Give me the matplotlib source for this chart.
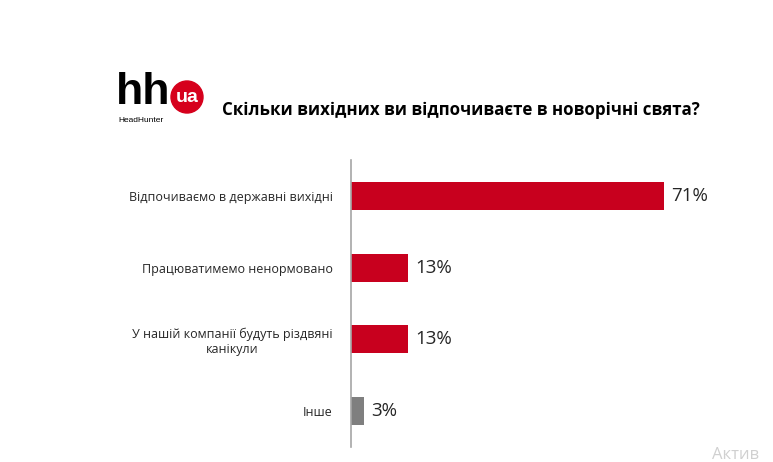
import matplotlib
matplotlib.use("Agg")
import matplotlib.pyplot as plt
from matplotlib.patches import Circle

categories = ["Відпочиваємо в державні вихідні", "Працюватимемо ненормовано",
              "У нашій компанії будуть різдвяні\nканікули", "Інше"]
values = [71, 13, 13, 3]
colors = ["#C8001E", "#C8001E", "#C8001E", "#7F7F7F"]
labels = ["71%", "13%", "13%", "3%"]
title = "Скільки вихідних ви відпочиваєте в новорічні свята?"

plt.rcParams['font.family'] = ['Open Sans', 'DejaVu Sans']

W, H = 773, 462
fig = plt.figure(figsize=(W/100, H/100), dpi=100)
ax = fig.add_axes([351/W, 1-447/H, (704-351)/W, (447-160)/H])
y = list(range(len(categories)))
ax.barh(y, values, height=0.39, color=colors)
ax.set_xlim(0, 80)
ax.set_ylim(len(categories)-0.5, -0.5)
ax.set_yticks(y)
ax.set_yticklabels(categories, fontsize=9, color="#262626", ha="right", multialignment="center")
ax.tick_params(axis="y", length=0, pad=13)
ax.set_xticks([])
for s in ["top", "right", "bottom"]:
    ax.spines[s].set_visible(False)
ax.spines["left"].set_color("#A6A6A6")
ax.spines["left"].set_linewidth(1.2)
for yi, v, lab in zip(y, values, labels):
    ax.text(v + 1.6, yi, lab, va="center", ha="left", fontsize=13.5, color="#262626")

# logo
fig.text(116/W, 1-104/H, "hh", fontsize=32, fontweight="bold", color="black",
         va="baseline", ha="left", family="Liberation Sans")
fig.text(118/W, 1-122/H, "HeadHunter", fontsize=6, color="black", va="baseline", ha="left",
         family="Liberation Sans")
fig.patches.append(Circle((187, H-97), 16, transform=None, color="#D6001C", zorder=1))
fig.text(187/W, 1-98/H, "ua", fontsize=14, fontweight="bold", color="white", va="center",
         ha="center", family="Liberation Sans", zorder=2)

fig.text(222/W, 1-110/H, title, fontsize=12.2, fontweight="bold", color="black",
         va="center", ha="left")

fig.text(712/W, 1-455/H, "Актив", fontsize=12, color="#D0D0D0", va="center", ha="left")

fig.savefig("out.png", dpi=100)
